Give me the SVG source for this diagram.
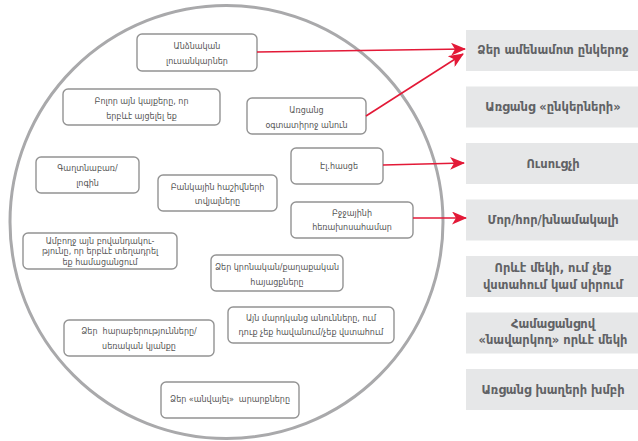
<svg xmlns="http://www.w3.org/2000/svg" width="638" height="441" viewBox="0 0 638 441">
<defs>
<style>
.circle{fill:none;stroke:#a9a9ab;stroke-width:3}
.node rect{fill:#fff;stroke:#939393;stroke-width:1.4}
.node text{font-family:"DejaVu Sans","Noto Sans",sans-serif;font-size:8px;fill:#555;text-anchor:middle;dominant-baseline:central}
.target rect{fill:#e6e7e8}
.target text{font-family:"DejaVu Sans","Noto Sans",sans-serif;font-size:11.5px;font-weight:bold;fill:#616265;text-anchor:middle;dominant-baseline:central}
.conn line{stroke:#e31937;stroke-width:1.6;fill:none}
</style>
<marker id="arr" viewBox="0 0 15 13" refX="14" refY="6.5" markerWidth="15" markerHeight="13" markerUnits="userSpaceOnUse" orient="auto">
<path d="M0,0 L15,6.5 L0,13 L4,6.5 z" fill="#e31937"/>
</marker>
</defs>
<rect width="638" height="441" fill="#fff"/>
<ellipse class="circle" cx="226.5" cy="222" rx="216.5" ry="216.5"/>

<g id="n1" class="node"><rect x="137" y="34" width="120" height="37" rx="5"/><text x="197" y="46">Անձնական</text><text x="197" y="61">լուսանկարներ</text></g>
<g id="n2" class="node"><rect x="63" y="89" width="157" height="36" rx="5"/><text x="141.5" y="101">Բոլոր այն կայքերը, որ</text><text x="141.5" y="116">երբևէ այցելել եք</text></g>
<g id="n3" class="node"><rect x="247" y="98" width="119" height="36" rx="5"/><text x="306.5" y="110">Առցանց</text><text x="306.5" y="125">օգտատիրոջ անուն</text></g>
<g id="n4" class="node"><rect x="291" y="148" width="92" height="36" rx="5"/><text x="339" y="166">Էլ.հասցե</text></g>
<g id="n5" class="node"><rect x="291" y="202" width="122" height="36" rx="5"/><text x="352" y="213">Բջջայինի</text><text x="352" y="227">հեռախոսահամար</text></g>
<g id="n6" class="node"><rect x="158" y="175" width="119" height="36" rx="5"/><text x="217.5" y="187">Բանկային հաշիվների</text><text x="217.5" y="201">տվյալները</text></g>
<g id="n7" class="node"><rect x="36" y="157" width="103" height="36" rx="5"/><text x="87.5" y="168">Գաղտնաբառ/</text><text x="87.5" y="183">լոգին</text></g>
<g id="n8" class="node"><rect x="23" y="233" width="154" height="36" rx="5"/><text x="100" y="241">Ամբողջ այն բովանդակու-</text><text x="100" y="251.5">թյունը, որ երբևէ տեղադրել</text><text x="100" y="262">եք համացանցում</text></g>
<g id="n9" class="node"><rect x="211" y="255" width="132" height="36" rx="5"/><text x="277" y="267">Ձեր կրոնական/քաղաքական</text><text x="277" y="282">հայացքները</text></g>
<g id="n10" class="node"><rect x="228" y="307" width="166" height="36" rx="5"/><text x="311" y="318">Այն մարդկանց անունները, ում</text><text x="311" y="332">դուք չեք հավանում/չեք վստահում</text></g>
<g id="n11" class="node"><rect x="64" y="320" width="150" height="36" rx="5"/><text x="139" y="331" xml:space="preserve">Ձեր  հարաբերությունները/</text><text x="139" y="346">սեռական կյանքը</text></g>
<g id="n12" class="node"><rect x="161" y="382" width="138" height="36" rx="5"/><text x="230" y="399" xml:space="preserve">Ձեր «անվայել»  արարքները</text></g>

<g id="t1" class="target"><rect x="466" y="30" width="175" height="41"/><text x="553" y="50">Ձեր ամենամոտ ընկերոջ</text></g>
<g id="t2" class="target"><rect x="466" y="86.5" width="175" height="41"/><text x="553" y="107">Առցանց «ընկերների»</text></g>
<g id="t3" class="target"><rect x="466" y="143" width="175" height="41"/><text x="553" y="163.5">Ուսուցչի</text></g>
<g id="t4" class="target"><rect x="466" y="199.5" width="175" height="41"/><text x="553" y="220">Մոր/հոր/խնամակալի</text></g>
<g id="t5" class="target"><rect x="466" y="256" width="175" height="41"/><text x="553" y="267.5">Որևէ մեկի, ում չեք</text><text x="553" y="284.5">վստահում կամ սիրում</text></g>
<g id="t6" class="target"><rect x="466" y="312.5" width="175" height="41"/><text x="553" y="323.5">Համացանցով</text><text x="553" y="340">«նավարկող» որևէ մեկի</text></g>
<g id="t7" class="target"><rect x="466" y="369" width="175" height="41"/><text x="553" y="390">Առցանց խաղերի խմբի</text></g>

<g id="connectors" class="conn">
<line x1="257" y1="52" x2="465" y2="49" marker-end="url(#arr)"/>
<line x1="366" y1="116" x2="463" y2="54" marker-end="url(#arr)"/>
<line x1="383" y1="165" x2="464" y2="163" marker-end="url(#arr)"/>
<line x1="413" y1="218" x2="466" y2="218" marker-end="url(#arr)"/>
</g>
</svg>
